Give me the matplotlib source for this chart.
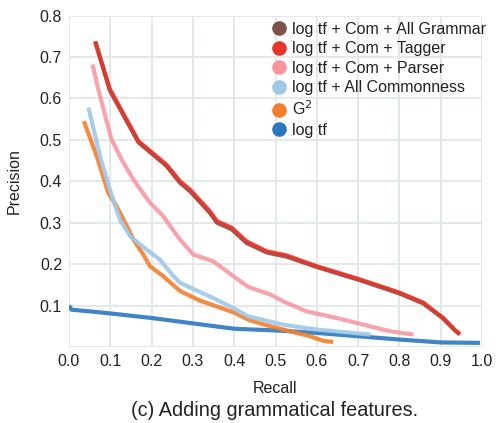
import matplotlib
matplotlib.use("Agg")
import matplotlib.pyplot as plt
from matplotlib.lines import Line2D

plt.rcParams['font.family'] = ['Liberation Sans', 'DejaVu Sans']

# log tf
logtf_r = [0.0, 0.006, 0.05, 0.1, 0.2, 0.3, 0.4, 0.5, 0.6, 0.7, 0.8, 0.9, 0.995]
logtf_p = [0.100, 0.090, 0.086, 0.081, 0.070, 0.057, 0.044, 0.040, 0.034, 0.026, 0.018, 0.011, 0.010]

# G^2
g2_r = [0.036, 0.067, 0.095, 0.115, 0.140, 0.156, 0.180, 0.196, 0.228, 0.269, 0.317, 0.366,
        0.402, 0.434, 0.462, 0.519, 0.584, 0.615, 0.640]
g2_p = [0.545, 0.461, 0.372, 0.340, 0.292, 0.259, 0.223, 0.195, 0.171, 0.135, 0.112, 0.095,
        0.082, 0.066, 0.057, 0.042, 0.026, 0.015, 0.012]

# log tf + All Commonness
com_r = [0.047, 0.075, 0.099, 0.123, 0.148, 0.188, 0.220, 0.253, 0.269, 0.301, 0.341, 0.390,
         0.434, 0.518, 0.60, 0.73]
com_p = [0.578, 0.461, 0.380, 0.308, 0.267, 0.235, 0.211, 0.171, 0.155, 0.140, 0.122, 0.098,
         0.074, 0.054, 0.042, 0.030]

# log tf + Com + Parser
parser_r = [0.057, 0.071, 0.091, 0.103, 0.127, 0.156, 0.196, 0.228, 0.245, 0.269, 0.301, 0.349,
            0.398, 0.434, 0.487, 0.519, 0.575, 0.648, 0.721, 0.777, 0.834]
parser_p = [0.682, 0.622, 0.545, 0.501, 0.453, 0.404, 0.348, 0.316, 0.292, 0.259, 0.223, 0.207,
            0.171, 0.145, 0.127, 0.110, 0.086, 0.070, 0.052, 0.038, 0.030]

# log tf + Com + Tagger
tagger_r = [0.063, 0.099, 0.168, 0.236, 0.269, 0.293, 0.341, 0.358, 0.394, 0.430, 0.479, 0.527,
            0.6, 0.705, 0.801, 0.858, 0.906, 0.935, 0.947]
tagger_p = [0.738, 0.622, 0.497, 0.440, 0.400, 0.380, 0.328, 0.304, 0.288, 0.255, 0.231, 0.221,
            0.195, 0.163, 0.131, 0.107, 0.070, 0.040, 0.030]

# log tf + Com + All Grammar
gram_r = [0.064, 0.099, 0.168, 0.236, 0.269, 0.293, 0.341, 0.358, 0.394, 0.430, 0.479, 0.527,
          0.6, 0.705, 0.801, 0.858, 0.906, 0.935, 0.945]
gram_p = [0.736, 0.619, 0.494, 0.437, 0.396, 0.376, 0.324, 0.300, 0.284, 0.251, 0.228, 0.218,
          0.193, 0.161, 0.129, 0.105, 0.069, 0.040, 0.032]

labels = ['log tf + Com + All Grammar', 'log tf + Com + Tagger', 'log tf + Com + Parser',
          'log tf + All Commonness', 'G$^2$', 'log tf']
colors = ['#82504a', '#e8352a', '#f7939c', '#9fc8e8', '#f47e2c', '#2a78c0']

fig = plt.figure(figsize=(4.96, 4.23), dpi=100)
ax = fig.add_axes([69/496, 1-347/423, 413/496, 331.5/423])

lw = 3.0
ax.plot(logtf_r, logtf_p, color=colors[5], lw=lw, alpha=0.9, solid_capstyle='butt')
ax.plot(g2_r, g2_p, color=colors[4], lw=lw, alpha=0.9, solid_capstyle='butt')
ax.plot(com_r, com_p, color=colors[3], lw=lw, alpha=0.9, solid_capstyle='butt')
ax.plot(parser_r, parser_p, color=colors[2], lw=lw, alpha=0.85, solid_capstyle='butt')
ax.plot(gram_r, gram_p, color=colors[0], lw=lw, alpha=0.9, solid_capstyle='butt')
ax.plot(tagger_r, tagger_p, color=colors[1], lw=lw, alpha=0.85, solid_capstyle='butt')

ax.set_xlim(0, 1.0)
ax.set_ylim(0, 0.8)
ax.set_xticks([i/10 for i in range(11)])
ax.set_xticklabels(['%.1f' % (i/10) for i in range(11)])
ax.set_yticks([i/10 for i in range(9)])
ax.set_yticklabels([''] + ['%.1f' % (i/10) for i in range(1, 9)])
ax.tick_params(length=0, labelsize=11.5, labelcolor='#222222', pad=5)
ax.grid(True, color='#e3e8e8', lw=1.4)
ax.set_axisbelow(True)
for s in ax.spines.values():
    s.set_visible(False)

ax.set_xlabel('Recall', fontsize=11.5, color='#222222', labelpad=8.5)
ax.set_ylabel('Precision', fontsize=11.5, color='#222222', labelpad=13)

handles = [Line2D([], [], ls='', marker='o', markersize=9.5, color=c) for c in colors]
ax.legend(handles, labels, loc='upper left', bbox_to_anchor=(0.47, 1.0), frameon=False,
          fontsize=11.5, handletextpad=0.2, labelspacing=0.28, borderaxespad=0.0,
          handlelength=1.2, labelcolor='#222222')

fig.text(275/496, 1-410/423, '(c) Adding grammatical features.', ha='center', va='center',
         fontsize=14.3, color='#222222')

fig.savefig('out.png', dpi=100)
